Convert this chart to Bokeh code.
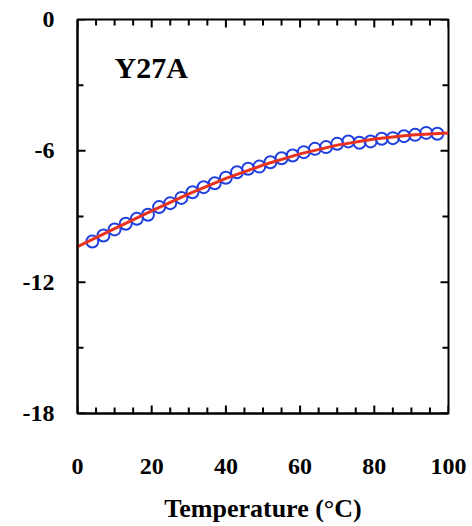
from bokeh.plotting import figure
from bokeh.models import Range1d, LinearAxis, FixedTicker, Label
from bokeh.embed import file_html
from bokeh.resources import INLINE

temps = [4, 7, 10, 13, 16, 19, 22, 25, 28, 31, 34, 37, 40, 43, 46, 49,
         52, 55, 58, 61, 64, 67, 70, 73, 76, 79, 82, 85, 88, 91, 94, 97]
values = [-10.14, -9.87, -9.59, -9.33, -9.10, -8.92, -8.57, -8.39, -8.15, -7.89,
          -7.66, -7.48, -7.23, -6.98, -6.82, -6.72, -6.52, -6.34, -6.21, -6.06,
          -5.91, -5.83, -5.68, -5.57, -5.63, -5.57, -5.45, -5.42, -5.33, -5.27,
          -5.18, -5.22]

# fitted curve
fit_temps = [0, 10, 20, 30, 40, 50, 60, 70, 80, 90, 100]
fit_values = [-10.38, -9.55, -8.74, -7.97, -7.26, -6.65, -6.14, -5.74, -5.46, -5.28, -5.19]

x_ticks = [0, 20, 40, 60, 80, 100]
x_minor = [5, 10, 15, 25, 30, 35, 45, 50, 55, 65, 70, 75, 85, 90, 95]
y_ticks = [-18, -12, -6, 0]
y_minor = [-15, -9, -3]
y_tick_labels = ["-18", "-12", "-6", "0"]

X_MIN, X_MAX = 0, 100
Y_MIN, Y_MAX = -18, 0

FONT = "Liberation Serif"

p = figure(width=472, height=526, output_backend="svg", toolbar_location=None,
           x_range=Range1d(X_MIN, X_MAX), y_range=Range1d(Y_MIN, Y_MAX),
           x_axis_location=None, y_axis_location=None,
           min_border_left=77, min_border_right=24, min_border_top=19, min_border_bottom=113)
p.grid.visible = False
p.outline_line_color = "black"
p.outline_line_width = 2


def make_axis(ticks, minor, standoff):
    ax = LinearAxis(ticker=FixedTicker(ticks=ticks, minor_ticks=minor))
    ax.axis_line_width = 2
    ax.major_tick_in = 0
    ax.major_tick_out = 0
    ax.minor_tick_in = 0
    ax.minor_tick_out = 0
    ax.major_tick_line_color = None
    ax.minor_tick_line_color = None
    ax.major_label_text_font = FONT
    ax.major_label_text_font_style = "bold"
    ax.major_label_text_font_size = "24px"
    ax.major_label_text_color = "black"
    ax.major_label_standoff = standoff
    return ax


bottom = make_axis(x_ticks, x_minor, 45)
bottom.axis_label = "Temperature (°C)"
bottom.axis_label_text_font = FONT
bottom.axis_label_text_font_style = "bold"
bottom.axis_label_text_font_size = "26px"
bottom.axis_label_text_color = "black"
bottom.axis_label_standoff = 17
p.add_layout(bottom, "below")

left = make_axis(y_ticks, y_minor, 23)
left.major_label_overrides = {t: s for t, s in zip(y_ticks, y_tick_labels)}
p.add_layout(left, "left")

# inward tick marks on all four sides (half of each dash is clipped by the frame)
for edge in (Y_MIN, Y_MAX):
    p.scatter(x_ticks, [edge] * len(x_ticks), marker="dash", angle=1.5708, size=16,
              line_color="black", line_width=2)
    p.scatter(x_minor, [edge] * len(x_minor), marker="dash", angle=1.5708, size=12,
              line_color="black", line_width=2)
for edge in (X_MIN, X_MAX):
    p.scatter([edge] * len(y_ticks), y_ticks, marker="dash", size=16,
              line_color="black", line_width=2)
    p.scatter([edge] * len(y_minor), y_minor, marker="dash", size=12,
              line_color="black", line_width=2)

p.scatter(temps, values, marker="circle", size=12, fill_color=None,
          line_color="#1f3fe0", line_width=2)
p.line(fit_temps, fit_values, line_color="#e8321e", line_width=3)

p.add_layout(Label(x=10, y=-2.2, text="Y27A", text_font=FONT, text_font_style="bold",
                   text_font_size="30px", text_color="black",
                   text_baseline="middle", text_align="left"))

open("out.html", "w").write(file_html(p, INLINE))
